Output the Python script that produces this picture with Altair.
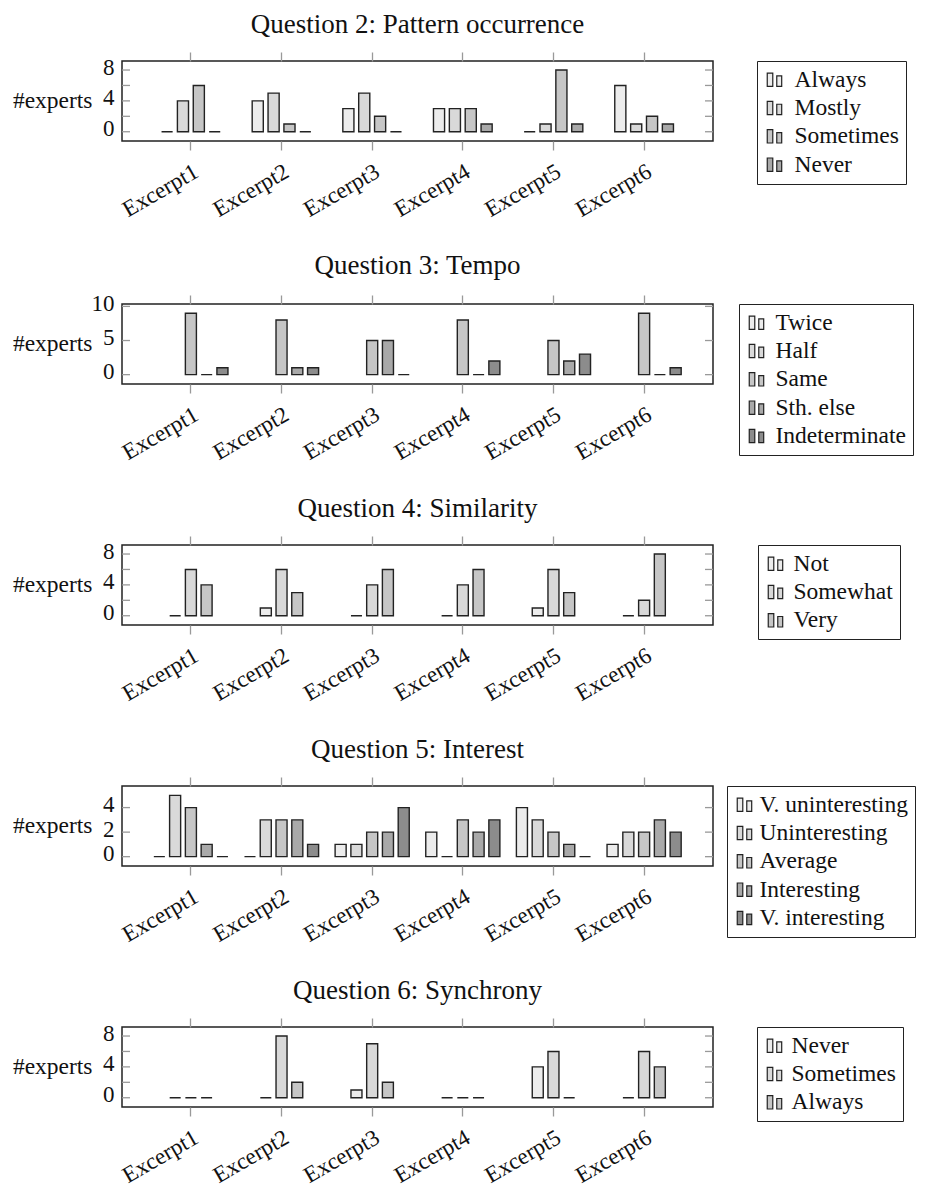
import altair as alt
import pandas as pd

FONT = "Liberation Serif"
W, H = 591, 80

excerpts = ["Excerpt1", "Excerpt2", "Excerpt3", "Excerpt4", "Excerpt5", "Excerpt6"]

# Question 2
q2_title = "Question 2: Pattern occurrence"
q2_answers = ["Always", "Mostly", "Sometimes", "Never"]
q2_always = [0, 4, 3, 3, 0, 6]
q2_mostly = [4, 5, 5, 3, 1, 1]
q2_sometimes = [6, 1, 2, 3, 8, 2]
q2_never = [0, 0, 0, 1, 1, 1]

# Question 3 (Twice / Half not drawn)
q3_title = "Question 3: Tempo"
q3_answers = ["Twice", "Half", "Same", "Sth. else", "Indeterminate"]
q3_twice = None
q3_half = None
q3_same = [9, 8, 5, 8, 5, 9]
q3_sthelse = [0, 1, 5, 0, 2, 0]
q3_indet = [1, 1, 0, 2, 3, 1]

# Question 4
q4_title = "Question 4: Similarity"
q4_answers = ["Not", "Somewhat", "Very"]
q4_not = [0, 1, 0, 0, 1, 0]
q4_somewhat = [6, 6, 4, 4, 6, 2]
q4_very = [4, 3, 6, 6, 3, 8]

# Question 5
q5_title = "Question 5: Interest"
q5_answers = ["V. uninteresting", "Uninteresting", "Average", "Interesting", "V. interesting"]
q5_vunint = [0, 0, 1, 2, 4, 1]
q5_unint = [5, 3, 1, 0, 3, 2]
q5_average = [4, 3, 2, 3, 2, 2]
q5_inter = [1, 3, 2, 2, 1, 3]
q5_vinter = [0, 1, 4, 3, 0, 2]

# Question 6
q6_title = "Question 6: Synchrony"
q6_answers = ["Never", "Sometimes", "Always"]
q6_never = [0, 0, 1, 0, 4, 0]
q6_sometimes = [0, 8, 7, 0, 6, 6]
q6_always = [0, 2, 2, 0, 0, 4]

grays = ["#ececec", "#d9d9d9", "#c6c6c6", "#a9a9a9", "#8c8c8c"]

ICON = "M-1,-0.78H-0.35V0.78H-1Z M0.12,-0.45H0.7V0.78H0.12Z"


def panel(idx, title, answers, series, ydom, ytick_vals, ylabel_vals,
          legend_x, label_offset, p_inner):
    field = f"answer{idx}"
    rows = []
    for ans, vals in zip(answers, series):
        if vals is None:
            continue
        for ex, v in zip(excerpts, vals):
            rows.append({"excerpt": ex, field: ans, "count": v})
    df = pd.DataFrame(rows)
    p_outer = 0.26 + p_inner / 2
    xscale = alt.Scale(domain=excerpts, paddingInner=p_inner, paddingOuter=p_outer)
    yscale = alt.Scale(domain=ydom, nice=False, zero=False)

    bars = alt.Chart(df).mark_bar(stroke="#222", strokeWidth=1.4).encode(
        x=alt.X("excerpt:N", scale=xscale, sort=excerpts,
                axis=alt.Axis(title=None, labelAngle=330, labelAlign="right",
                              labelBaseline="top", labelPadding=10, labelOverlap=False,
                              labelBound=False,
                              tickSize=9, tickColor="#999", tickWidth=1.3,
                              domain=False, grid=False)),
        xOffset=alt.XOffset(f"{field}:N",
                            scale=alt.Scale(domain=answers, paddingInner=0.3, paddingOuter=0.15)),
        y=alt.Y("count:Q", scale=yscale,
                axis=alt.Axis(values=ylabel_vals, ticks=False, domain=False, grid=False,
                              labelPadding=8, labelOffset=-3, title="#experts",
                              titleAngle=0, titleAlign="right", titleBaseline="middle",
                              titleX=-30, titleY=H / 2 - 1, titleFontSize=23.5)),
        y2=alt.datum(0),
        fill=alt.Fill(f"{field}:N",
                      scale=alt.Scale(domain=answers, range=grays[:len(answers)]),
                      legend=alt.Legend(orient="none", legendX=legend_x, legendY=0,
                                        title=None, direction="vertical",
                                        symbolType=ICON, symbolSize=289,
                                        symbolStrokeColor="#222", symbolStrokeWidth=1.2,
                                        symbolOpacity=1,
                                        labelFont=FONT, labelFontSize=23.5, labelColor="#111",
                                        labelOffset=label_offset, labelLimit=400,
                                        rowPadding=3.3, padding=7,
                                        strokeColor="#222")),
    )

    top = alt.Chart(pd.DataFrame({"excerpt": excerpts})).mark_point(opacity=0).encode(
        x=alt.X("excerpt:N", scale=xscale, sort=excerpts,
                axis=alt.Axis(orient="top", labels=False, ticks=True, tickSize=9,
                              tickColor="#999", tickWidth=1.3, domain=False,
                              grid=False, title=None)),
    )

    tickdf = pd.DataFrame({"v": ytick_vals})
    left_ticks = alt.Chart(tickdf).mark_rule(color="#999", strokeWidth=1.3).encode(
        y=alt.Y("v:Q", scale=yscale, axis=None),
        x=alt.value(0), x2=alt.value(8))
    right_ticks = alt.Chart(tickdf).mark_rule(color="#999", strokeWidth=1.3).encode(
        y=alt.Y("v:Q", scale=yscale, axis=None),
        x=alt.value(W - 8), x2=alt.value(W))

    return alt.layer(bars, top, left_ticks, right_ticks).resolve_axis(
        x="independent", y="independent").properties(
        width=W, height=H,
        title=alt.TitleParams(text=title, font=FONT, fontSize=27, fontWeight="normal",
                              color="#111", anchor="middle", frame="group", offset=12))


p2 = panel(2, q2_title, q2_answers, [q2_always, q2_mostly, q2_sometimes, q2_never],
           [-1.2, 9.17], [0, 2, 4, 6, 8], [0, 4, 8], 635, 7, 0.30)
p3 = panel(3, q3_title, q3_answers, [q3_twice, q3_half, q3_same, q3_sthelse, q3_indet],
           [-1.37, 10.35], [0, 5, 10], [0, 5, 10], 617, 6, 0.13)
p4 = panel(4, q4_title, q4_answers, [q4_not, q4_somewhat, q4_very],
           [-1.2, 9.17], [0, 2, 4, 6, 8], [0, 4, 8], 636, 5, 0.48)
p5 = panel(5, q5_title, q5_answers, [q5_vunint, q5_unint, q5_average, q5_inter, q5_vinter],
           [-0.76, 5.76], [0, 2, 4], [0, 2, 4], 605, 2, 0.13)
p6 = panel(6, q6_title, q6_answers, [q6_never, q6_sometimes, q6_always],
           [-1.2, 9.17], [0, 2, 4, 6, 8], [0, 4, 8], 635, 4, 0.48)

chart = alt.vconcat(p2, p3, p4, p5, p6, spacing=28).resolve_scale(
    x="independent", y="independent", fill="independent", xOffset="independent"
).resolve_legend(fill="independent").properties(
    padding={"left": 3, "top": 2, "right": 0, "bottom": 0}
).configure_view(stroke="#222", strokeWidth=1.5).configure_axis(
    labelFont=FONT, labelFontSize=23, labelColor="#111",
    titleFont=FONT, titleFontSize=23, titleFontWeight="normal", titleColor="#111"
)

chart.save("out.html", embed_options={"renderer": "svg", "actions": False})
